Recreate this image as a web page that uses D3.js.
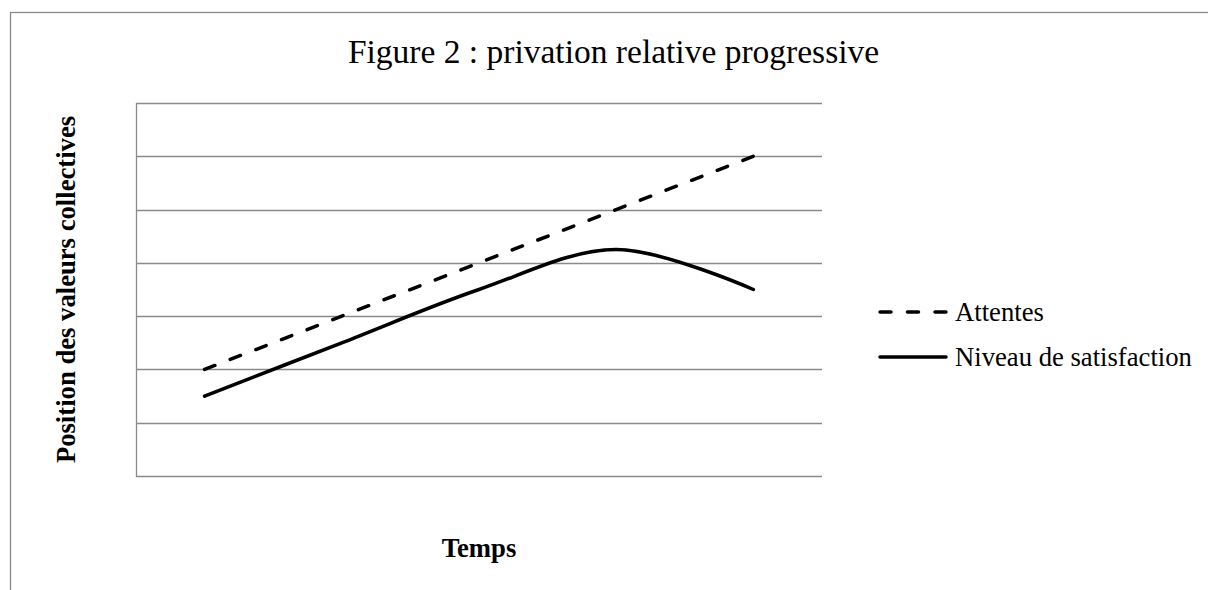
<!DOCTYPE html>
<html>
<head>
<meta charset="utf-8">
<script src="https://cdn.jsdelivr.net/npm/d3@7"></script>
<style>
  html, body { margin: 0; padding: 0; background: #fff; }
  svg { display: block; }
</style>
</head>
<body>
<svg id="chart" width="1208" height="590"></svg>
<script>
// ---- data ----
const categories = ["t1", "t2", "t3", "t4", "t5"];
const attentes = [2, 3, 4, 5, 6];
const satisfaction = [1.5, 2.5, 3.5, 4.25, 3.5];
const seriesNames = ["Attentes", "Niveau de satisfaction"];
const yTicks = [0, 1, 2, 3, 4, 5, 6, 7];
const titleText = "Figure 2 : privation relative progressive";
const yTitle = "Position des valeurs collectives";
const xTitle = "Temps";

// ---- layout ----
const svg = d3.select("#chart");
const plot = { left: 136, right: 822, top: 103, bottom: 476 };
const grey = "#8a8a8a";
const dash = "11,16.5";

// outer chart frame (extends beyond the picture on the right and bottom)
svg.append("rect")
  .attr("x", 10.5).attr("y", 12.5)
  .attr("width", 1214).attr("height", 600)
  .attr("fill", "#fff").attr("stroke", grey).attr("stroke-width", 1.3);

const x = d3.scalePoint().domain(categories).range([plot.left, plot.right]).padding(0.5);
const y = d3.scaleLinear().domain([0, 7]).range([plot.bottom, plot.top]);

// gridlines
svg.append("g").selectAll("line").data(yTicks).join("line")
  .attr("x1", plot.left).attr("x2", plot.right)
  .attr("y1", d => Math.round(y(d)) + 0.5).attr("y2", d => Math.round(y(d)) + 0.5)
  .attr("stroke", grey).attr("stroke-width", 1.3);

// vertical axis line
svg.append("line")
  .attr("x1", plot.left + 0.5).attr("x2", plot.left + 0.5)
  .attr("y1", plot.top).attr("y2", plot.bottom + 1)
  .attr("stroke", grey).attr("stroke-width", 1.3);

// series
const line = d3.line()
  .x((d, i) => x(categories[i]))
  .y(d => y(d))
  .curve(d3.curveCardinal.tension(0));

const lineStraight = d3.line()
  .x((d, i) => x(categories[i]))
  .y(d => y(d));

svg.append("path").datum(attentes)
  .attr("d", lineStraight)
  .attr("fill", "none").attr("stroke", "#000").attr("stroke-width", 3.5)
  .attr("stroke-linecap", "round").attr("stroke-dasharray", dash);

svg.append("path").datum(satisfaction)
  .attr("d", line)
  .attr("fill", "none").attr("stroke", "#000").attr("stroke-width", 3.5)
  .attr("stroke-linecap", "round");

// title
svg.append("text")
  .attr("x", 613.5).attr("y", 63)
  .attr("text-anchor", "middle")
  .attr("font-family", "'Liberation Serif', serif")
  .attr("font-size", 33.5)
  .attr("fill", "#000")
  .text(titleText);

// y axis title
svg.append("text")
  .attr("transform", `translate(75, ${(plot.top + plot.bottom) / 2}) rotate(-90)`)
  .attr("text-anchor", "middle")
  .attr("font-family", "'Liberation Serif', serif")
  .attr("font-weight", "bold")
  .attr("font-size", 26.67)
  .attr("fill", "#000")
  .text(yTitle);

// x axis title
svg.append("text")
  .attr("x", (plot.left + plot.right) / 2).attr("y", 557)
  .attr("text-anchor", "middle")
  .attr("font-family", "'Liberation Serif', serif")
  .attr("font-weight", "bold")
  .attr("font-size", 26.67)
  .attr("fill", "#000")
  .text(xTitle);

// legend
const legendY = [312, 357];
const legend = svg.append("g");
seriesNames.forEach((name, i) => {
  legend.append("line")
    .attr("x1", 880).attr("x2", 946)
    .attr("y1", legendY[i]).attr("y2", legendY[i])
    .attr("stroke", "#000").attr("stroke-width", 3.5)
    .attr("stroke-linecap", "round")
    .attr("stroke-dasharray", i === 0 ? dash : null);
  legend.append("text")
    .attr("x", 955).attr("y", legendY[i] + 8.5)
    .attr("font-family", "'Liberation Serif', serif")
    .attr("font-size", 26.67)
    .attr("fill", "#000")
    .text(name);
});
</script>
</body>
</html>
